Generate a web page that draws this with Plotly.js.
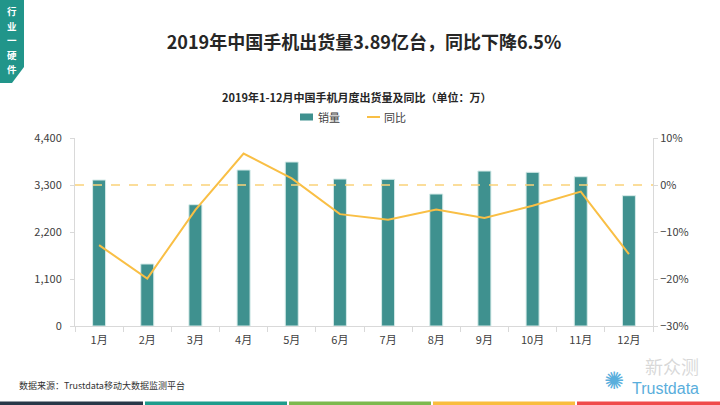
<!DOCTYPE html>
<html><head><meta charset="utf-8">
<script src="https://cdn.plot.ly/plotly-3.0.1.min.js"></script>
<style>html,body{margin:0;padding:0;background:#fff;}#chart{width:720px;height:405px;}</style>
</head><body><div id="chart"></div>
<script>
const months = ['1月','2月','3月','4月','5月','6月','7月','8月','9月','10月','11月','12月'];
const sales = [3417, 1451, 2839, 3651, 3838, 3440, 3433, 3089, 3627, 3597, 3494, 3050];
const yoy = [-0.128, -0.199, -0.053, 0.067, 0.014, -0.062, -0.074, -0.052, -0.070, -0.044, -0.014, -0.147];
const leftTicks = [0, 1100, 2200, 3300, 4400];
const rightTicks = [-0.3, -0.2, -0.1, 0, 0.1];
const seriesNames = ['销量', '同比'];
const sideLabel = ['行','业','一','硬','件'];
const bottomColors = ['#283848','#1E9C8C','#7DB94E','#F9BD3E','#EF4B4B'];

const W = 720, H = 405, L = 75, R = 67, T = 138, B = 79;
const pw = W - L - R, ph = H - T - B;
const px = x => (x - L) / pw;
const py = y => (H - B - y) / ph;

const FONT = '"Noto Sans CJK SC", "Microsoft YaHei", sans-serif';
const TEAL = '#3F918F', ORANGE = '#F9BF45';

const traces = [
  {type:'bar', x: months, y: sales, name: seriesNames[0], marker:{color:TEAL, line:{color:'#d6ebe9', width:1}}, yaxis:'y'},
  {type:'scatter', mode:'lines', x: months, y: yoy, name: seriesNames[1], line:{color:ORANGE, width:2}, yaxis:'y2'}
];

const shapes = [
  {type:'line', xref:'paper', yref:'y2', x0:0, x1:1, y0:0, y1:0, line:{color:'#FAD27A', width:1.5, dash:'dash'}, layer:'above'},
  {type:'path', xref:'paper', yref:'paper', path:`M ${px(0)} ${py(0)} L ${px(24)} ${py(0)} L ${px(24)} ${py(67)} L ${px(12)} ${py(83)} L ${px(0)} ${py(83)} Z`, fillcolor:'#21958A', line:{width:0}},
  {type:'rect', xref:'paper', yref:'paper', x0:px(300), x1:px(313), y0:py(120.5), y1:py(113.5), fillcolor:TEAL, line:{width:0}},
  {type:'line', xref:'paper', yref:'paper', x0:px(367), x1:px(380), y0:py(117), y1:py(117), line:{color:ORANGE, width:2}}
];
bottomColors.forEach((c,i)=>{
  shapes.push({type:'rect', xref:'paper', yref:'paper', x0:px(i*144 + (i>0?1:0)), x1:px(i===4 ? 720 : i*144+143), y0:py(405), y1:py(401.5), fillcolor:c, line:{width:0}});
});

const annotations = [
  {text:'2019年1-12月中国手机月度出货量及同比（单位：万）', xref:'paper', yref:'paper', x:px(357), y:py(97), showarrow:false, font:{family:FONT, size:11, color:'#262626', weight:'bold'}, xanchor:'center', yanchor:'middle'},
  {text:seriesNames[0], xref:'paper', yref:'paper', x:px(316), y:py(117), showarrow:false, font:{family:FONT, size:11, color:'#404040'}, xanchor:'left', yanchor:'middle'},
  {text:seriesNames[1], xref:'paper', yref:'paper', x:px(382), y:py(117), showarrow:false, font:{family:FONT, size:11, color:'#404040'}, xanchor:'left', yanchor:'middle'},
  {text:'数据来源：Trustdata移动大数据监测平台', xref:'paper', yref:'paper', x:px(17), y:py(385), showarrow:false, font:{family:FONT, size:9, color:'#333'}, xanchor:'left', yanchor:'middle'},
  {text:'Trustdata', xref:'paper', yref:'paper', x:px(630), y:py(388), showarrow:false, font:{family:'"Liberation Sans", sans-serif', size:16, color:'#5AAEDC'}, xanchor:'left', yanchor:'middle'},
  {text:'✺', xref:'paper', yref:'paper', x:px(614), y:py(381), showarrow:false, font:{family:'"DejaVu Sans", sans-serif', size:24, color:'#5AAEDC'}, xanchor:'center', yanchor:'middle'},
  {text:'新众测', xref:'paper', yref:'paper', x:px(672), y:py(366), showarrow:false, font:{family:FONT, size:18, color:'rgba(190,190,190,0.6)'}, xanchor:'center', yanchor:'middle'}
];
sideLabel.forEach((ch,i)=>{
  annotations.push({text:ch, xref:'paper', yref:'paper', x:px(12), y:py(11 + i*14.5), showarrow:false, borderpad:0, font:{family:FONT, size:9.5, color:'#ffffff', weight:'bold'}, xanchor:'center', yanchor:'middle'});
});

const layout = {
  width: W, height: H,
  margin:{l:L, r:R, t:T, b:B, pad:0},
  paper_bgcolor:'#fff', plot_bgcolor:'#fff',
  font:{family:FONT, size:11, color:'#404040'},
  title:{text:'2019年中国手机出货量3.89亿台，同比下降6.5%', x:0.5, xref:'paper', xanchor:'center', y:1 - 43/H, yref:'container', yanchor:'middle', font:{family:FONT, size:18, color:'#262626', weight:'bold'}},
  bargap: 0.73,
  showlegend: false,
  xaxis:{type:'category', showline:true, linecolor:'#d9d9d9', linewidth:1, ticks:'outside', tickson:'boundaries', ticklen:5, tickcolor:'#d9d9d9', showgrid:false, tickfont:{size:11, color:'#404040'}, ticklabelstandoff:4},
  yaxis:{range:[0,4400], tickvals:leftTicks, tickformat:',', showline:true, linecolor:'#d9d9d9', ticks:'outside', ticklen:4, tickcolor:'#d9d9d9', showgrid:false, zeroline:false, tickfont:{size:11, color:'#404040'}, ticklabelstandoff:6},
  yaxis2:{range:[-0.3,0.1], tickvals:rightTicks, tickformat:'.0%', overlaying:'y', side:'right', showline:true, linecolor:'#d9d9d9', ticks:'outside', ticklen:4, tickcolor:'#d9d9d9', showgrid:false, zeroline:false, tickfont:{size:11, color:'#404040'}},
  shapes: shapes,
  annotations: annotations
};
Plotly.newPlot('chart', traces, layout, {displayModeBar:false, staticPlot:true});
</script></body></html>
